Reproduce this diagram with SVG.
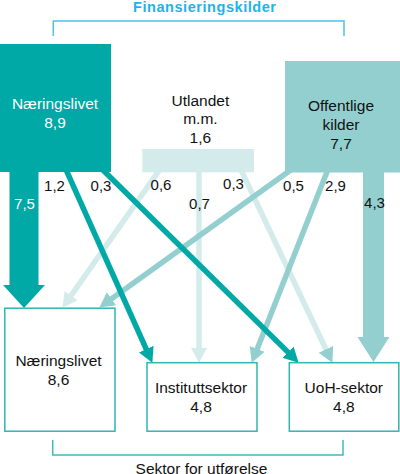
<svg xmlns="http://www.w3.org/2000/svg" width="400" height="474" viewBox="0 0 400 474">
<style>
text{font-family:"Liberation Sans",Arial,sans-serif;fill:#111;}
.lbl{font-size:15.5px;text-anchor:middle;}
.num{font-size:15px;text-anchor:middle;}
.wt{fill:#fff;}
.title{font-size:14.5px;font-weight:bold;fill:#1bb4ea;text-anchor:middle;}
.dest{fill:#fff;stroke:#2fb5b3;stroke-width:1.5;}
.lt{stroke:#00a8a6;stroke-width:5.5;fill:none;}
.ll{stroke:#d4ebeb;stroke-width:5.5;fill:none;}
.lm{stroke:#94cfcf;stroke-width:5.5;fill:none;}
.br{fill:none;stroke-width:1.5;}
</style>
<defs>
<marker id="hT" markerUnits="userSpaceOnUse" markerWidth="16" markerHeight="18" viewBox="0 -8 15 16" refX="1" refY="0" orient="auto"><path d="M0,-7.5 L14,0 L0,7.5 z" fill="#00a8a6"/></marker>
<marker id="hL" markerUnits="userSpaceOnUse" markerWidth="16" markerHeight="18" viewBox="0 -8 15 16" refX="1" refY="0" orient="auto"><path d="M0,-7.5 L14,0 L0,7.5 z" fill="#d4ebeb"/></marker>
<marker id="hM" markerUnits="userSpaceOnUse" markerWidth="16" markerHeight="18" viewBox="0 -8 15 16" refX="1" refY="0" orient="auto"><path d="M0,-7.5 L14,0 L0,7.5 z" fill="#94cfcf"/></marker>
</defs>

<g id="title">
<text class="title" x="204.5" y="12" textLength="143" lengthAdjust="spacing">Finansieringskilder</text>
<path class="br" stroke="#4ec2ec" d="M53.3,36 V21 H344 V36"/>
</g>

<g id="src-naeringslivet">
<rect x="0" y="44" width="111" height="128" fill="#00a8a6"/>
<text class="lbl wt" x="55" y="108.5">Næringslivet</text>
<text class="lbl wt" x="55" y="128">8,9</text>
</g>

<g id="src-utlandet">
<rect x="142.3" y="149" width="111.7" height="23.3" fill="#d4ebeb"/>
<text class="lbl" x="200.4" y="105.7">Utlandet</text>
<text class="lbl" x="200.4" y="124.3">m.m.</text>
<text class="lbl" x="200.4" y="142.5">1,6</text>
</g>

<g id="src-offentlige">
<rect x="285" y="61" width="115" height="111.5" fill="#94cfcf"/>
<text class="lbl" x="341" y="110.8">Offentlige</text>
<text class="lbl" x="341" y="130">kilder</text>
<text class="lbl" x="341" y="149">7,7</text>
</g>

<g id="connectors">
<polygon points="9.5,170 38.5,170 38.5,285 45,285 24,308 3,285 9.5,285" fill="#00a8a6"/>
<polygon points="363,170 384,170 384,337 389.5,337 373.5,362 357.5,337 363,337" fill="#94cfcf"/>
<line class="ll" x1="160.9" y1="167.9" x2="70.5" y2="296.4" marker-end="url(#hL)"/>
<line class="ll" x1="199" y1="168" x2="199" y2="349" marker-end="url(#hL)"/>
<line class="ll" x1="239.9" y1="167.5" x2="326.4" y2="350.25" marker-end="url(#hM)"/>
<line class="lm" x1="292.1" y1="169.1" x2="110.6" y2="299.4" marker-end="url(#hM)"/>
<line class="lm" x1="328.8" y1="167.35" x2="256.8" y2="349.9" marker-end="url(#hM)"/>
<line class="lt" x1="65" y1="167.4" x2="146.7" y2="350.1" marker-end="url(#hT)"/>
<line class="lt" x1="101.4" y1="168.5" x2="288.7" y2="352.9" marker-end="url(#hT)"/>
<text class="num wt" x="24.5" y="209">7,5</text>
<text class="num" x="54.5" y="190.5">1,2</text>
<text class="num" x="101" y="190.5">0,3</text>
<text class="num" x="161" y="189.5">0,6</text>
<text class="num" x="233.5" y="188.8">0,3</text>
<text class="num" x="199.5" y="209">0,7</text>
<text class="num" x="293.5" y="190.5">0,5</text>
<text class="num" x="335.5" y="190.5">2,9</text>
<text class="num" x="374.5" y="207.5">4,3</text>
</g>

<g id="dst-naeringslivet">
<rect class="dest" x="4.8" y="308.2" width="110.2" height="123"/>
<text class="lbl" x="58.5" y="366">Næringslivet</text>
<text class="lbl" x="58.5" y="385">8,6</text>
</g>

<g id="dst-instituttsektor">
<rect class="dest" x="147" y="362.7" width="110" height="68.5"/>
<text class="lbl" x="201" y="393">Instituttsektor</text>
<text class="lbl" x="201" y="412">4,8</text>
</g>

<g id="dst-uoh">
<rect class="dest" x="289.3" y="362.7" width="109.5" height="68.5"/>
<text class="lbl" x="343.8" y="393">UoH-sektor</text>
<text class="lbl" x="343.8" y="412">4,8</text>
</g>

<g id="footer">
<path class="br" stroke="#3cbcbc" d="M52.7,440 V455 H343 V440"/>
<text class="lbl" x="201.5" y="474">Sektor for utførelse</text>
</g>
</svg>
